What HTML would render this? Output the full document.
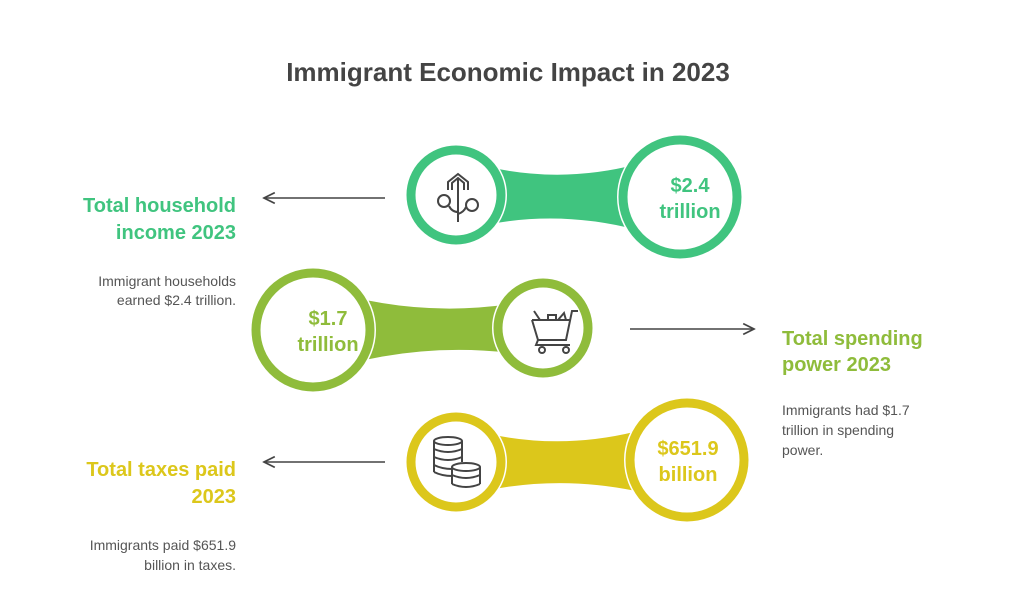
<!DOCTYPE html>
<html><head><meta charset="utf-8"><style>
html,body{margin:0;padding:0;background:#fff}
svg{display:block}
text{font-family:"Liberation Sans",Arial,sans-serif}
.t{font-weight:bold;font-size:20px}
.d{fill:#555;font-size:14px}
.v{font-weight:bold;font-size:20px}
</style></head><body>
<svg width="1017" height="602" viewBox="0 0 1017 602">
<defs>
<marker id="ah" viewBox="0 0 10 10" refX="9" refY="5" markerWidth="9" markerHeight="9" orient="auto-start-reverse"><path d="M1,1 L9,5 L1,9" fill="none" stroke="#444" stroke-width="1.3"/></marker>
</defs>
<text x="508" y="81" text-anchor="middle" font-size="26" font-weight="bold" fill="#444">Immigrant Economic Impact in 2023</text>

<!-- Row 1 -->
<g>
<path d="M456,158 Q568,195 680,150 L680,244 Q568,200 456,232 Z" fill="#40c47f"/>
<circle cx="456" cy="195" r="49" fill="#fff" stroke="#fff" stroke-width="4"/>
<circle cx="456" cy="195" r="45" fill="#fff" stroke="#40c47f" stroke-width="9"/>
<circle cx="680" cy="197" r="61" fill="#fff" stroke="#fff" stroke-width="4"/>
<circle cx="680" cy="197" r="57" fill="#fff" stroke="#40c47f" stroke-width="9"/>
<g fill="none" stroke="#444" stroke-width="2">
<path d="M448,190 L448,182 L458,174 L468,182 L468,190 M452,190 L452,183 L458,178 L464,183 L464,190"/>
<path d="M458,178 L458,222 M458,212 Q452,212 449,206 M458,214 Q464,212 466,207"/>
<circle cx="444" cy="201" r="6"/><circle cx="472" cy="205" r="6"/>
</g>
<text class="v" x="690" y="192" text-anchor="middle" fill="#40c47f">$2.4</text>
<text class="v" x="690" y="218" text-anchor="middle" fill="#40c47f">trillion</text>
<line x1="385" y1="198" x2="264" y2="198" stroke="#444" stroke-width="1.5" marker-end="url(#ah)"/>
<text class="t" x="236" y="212" text-anchor="end" fill="#40c47f">Total household</text>
<text class="t" x="236" y="239" text-anchor="end" fill="#40c47f">income 2023</text>
<text class="d" x="236" y="286" text-anchor="end">Immigrant households</text>
<text class="d" x="236" y="305" text-anchor="end">earned $2.4 trillion.</text>
</g>

<!-- Row 2 -->
<g>
<path d="M313,286 Q428,324 543,298 L543,358 Q428,336 313,374 Z" fill="#8fbc3b"/>
<circle cx="313" cy="330" r="61" fill="#fff" stroke="#fff" stroke-width="4"/>
<circle cx="313" cy="330" r="57" fill="#fff" stroke="#8fbc3b" stroke-width="9"/>
<circle cx="543" cy="328" r="49" fill="#fff" stroke="#fff" stroke-width="4"/>
<circle cx="543" cy="328" r="45" fill="#fff" stroke="#8fbc3b" stroke-width="9"/>
<g fill="none" stroke="#444" stroke-width="2">
<path d="M532,320 L538,340 L566,340 L572,311 L578,311 M532,320 L570,320"/>
<path d="M534,311 L540,320 M548,320 L548,315 L556,315 L556,320 M558,320 L564,313 L566,320"/>
<path d="M538,340 L536,345 L570,345"/>
<circle cx="542" cy="350" r="3"/><circle cx="566" cy="350" r="3"/>
</g>
<text class="v" x="328" y="325" text-anchor="middle" fill="#8fbc3b">$1.7</text>
<text class="v" x="328" y="351" text-anchor="middle" fill="#8fbc3b">trillion</text>
<line x1="630" y1="329" x2="754" y2="329" stroke="#444" stroke-width="1.5" marker-end="url(#ah)"/>
<text class="t" x="782" y="345" fill="#8fbc3b">Total spending</text>
<text class="t" x="782" y="371" fill="#8fbc3b">power 2023</text>
<text class="d" x="782" y="415">Immigrants had $1.7</text>
<text class="d" x="782" y="435">trillion in spending</text>
<text class="d" x="782" y="455">power.</text>
</g>

<!-- Row 3 -->
<g>
<path d="M456,425 Q570,462 687,415 L687,505 Q570,465 456,498 Z" fill="#dcc71b"/>
<circle cx="456" cy="462" r="49" fill="#fff" stroke="#fff" stroke-width="4"/>
<circle cx="456" cy="462" r="45" fill="#fff" stroke="#dcc71b" stroke-width="9"/>
<circle cx="687" cy="460" r="61" fill="#fff" stroke="#fff" stroke-width="4"/>
<circle cx="687" cy="460" r="57" fill="#fff" stroke="#dcc71b" stroke-width="9"/>
<g fill="none" stroke="#444" stroke-width="2">
<ellipse cx="448" cy="441" rx="14" ry="4"/>
<path d="M434,441 L434,472 M462,441 L462,462 M434,449 Q448,455 462,449 M434,457 Q448,463 462,457 M434,465 Q442,469 452,469 M434,472 Q442,476 452,476"/>
<ellipse cx="466" cy="467" rx="14" ry="4"/>
<path d="M452,467 L452,484 M480,467 L480,484 M452,475 Q466,481 480,475 M452,484 Q466,490 480,484"/>
</g>
<text class="v" x="688" y="455" text-anchor="middle" fill="#dcc71b">$651.9</text>
<text class="v" x="688" y="481" text-anchor="middle" fill="#dcc71b">billion</text>
<line x1="385" y1="462" x2="264" y2="462" stroke="#444" stroke-width="1.5" marker-end="url(#ah)"/>
<text class="t" x="236" y="476" text-anchor="end" fill="#dcc71b">Total taxes paid</text>
<text class="t" x="236" y="503" text-anchor="end" fill="#dcc71b">2023</text>
<text class="d" x="236" y="550" text-anchor="end">Immigrants paid $651.9</text>
<text class="d" x="236" y="570" text-anchor="end">billion in taxes.</text>
</g>
</svg>
</body></html>
